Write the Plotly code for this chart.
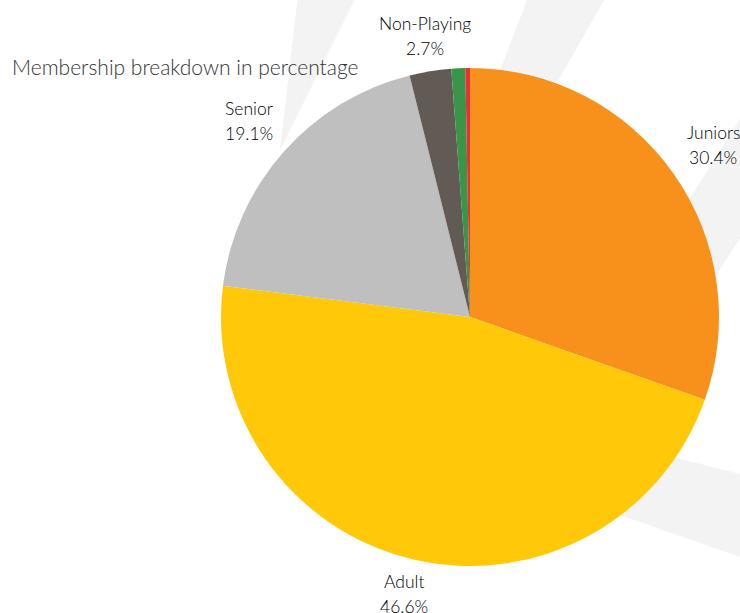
import math
import plotly.graph_objects as go

# ---- data ----
categories = ["Juniors", "Adult", "Senior", "Non-Playing", "Social", "Honorary"]
percentages = [30.4, 46.6, 19.1, 2.7, 0.9, 0.3]
colors = ["#F8901C", "#FFC90A", "#BFBFBF", "#625B55", "#399648", "#E63232"]
show_label = [True, True, True, True, False, False]
title_text = "Membership breakdown in percentage"

W, H = 740, 613
CX, CY, R = 470, 317, 249      # pie centre / radius in pixels
FS = 17.5                      # label font size
GAP = 10                       # gap between pie edge and label box
HALF_H = 25                    # half height of a two-line label box

def px(x, y):
    return x / W, 1 - y / H

def poly(points):
    parts = []
    for i, (x, y) in enumerate(points):
        X, Y = px(x, y)
        parts.append(("M" if i == 0 else "L") + f"{X:.4f},{Y:.4f}")
    return " ".join(parts) + " Z"

# light watermark stripes in background
wm = [
    [(298, -5), (357, -5), (280, 150)],
    [(529, -5), (607, -5), (490, 200), (450, 200)],
    [(752, 100), (830, 100), (700, 300), (626, 300)],
    [(560, 428), (760, 479), (760, 564), (560, 494)],
]
shapes = [dict(type="path", path=poly(p), xref="paper", yref="paper",
               fillcolor="#F3F3F3", line=dict(width=0), layer="below") for p in wm]

fig = go.Figure(go.Pie(
    labels=categories,
    values=percentages,
    sort=False,
    direction="clockwise",
    rotation=0,
    marker=dict(colors=colors, line=dict(color="white", width=0)),
    textinfo="none",
    showlegend=False,
    domain=dict(x=[(CX - R) / W, (CX + R) / W], y=[1 - (CY + R) / H, 1 - (CY - R) / H]),
))

# data labels placed just outside each slice along its mid-angle (computed from the values)
annotations = []
total = sum(percentages)
cum = 0.0
lab_font = dict(family="Lato", size=FS, color="#000000", weight=300)
for name, val, show in zip(categories, percentages, show_label):
    mid = (cum + val / 2) / total * 2 * math.pi
    cum += val
    if not show:
        continue
    pct = f"{val / total * 100:.1f}%"
    sx, cy = math.sin(mid), math.cos(mid)
    half_w = max(len(name), len(pct)) * 0.52 * FS / 2
    ext = min(half_w / max(abs(sx), 1e-6), HALF_H / max(abs(cy), 1e-6))
    d = R + GAP + ext
    lx = CX + d * sx
    ly = CY - d * cy
    X, Y = px(lx, ly)
    for txt, ys in ((name, 12.5), (pct, -12.5)):
        annotations.append(dict(text=txt, x=X, y=Y, xref="paper", yref="paper",
                                xanchor="center", yanchor="middle", yshift=ys,
                                showarrow=False, font=lab_font))

annotations.append(dict(text=title_text, x=10 / W, y=1 - 66 / H, xref="paper", yref="paper",
                        xanchor="left", yanchor="middle", showarrow=False,
                        font=dict(family="Lato", size=21, color="#333333", weight=300)))

fig.update_layout(
    width=W, height=H,
    margin=dict(l=0, r=0, t=0, b=0),
    paper_bgcolor="white",
    plot_bgcolor="white",
    shapes=shapes,
    annotations=annotations,
)

fig.write_html("out.html")
